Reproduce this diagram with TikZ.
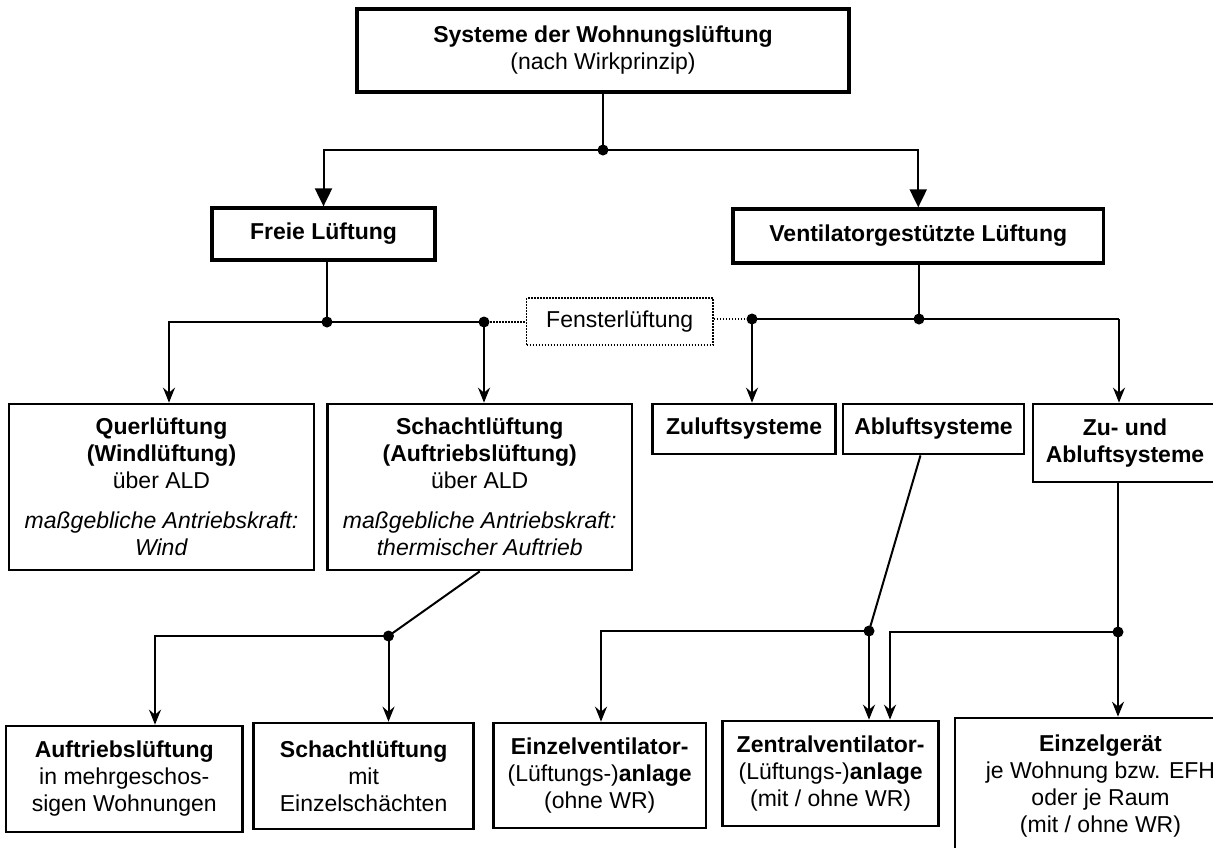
\documentclass[tikz,border=0pt]{standalone}
\usepackage{fontspec}
\setmainfont{Liberation Sans}
\usetikzlibrary{arrows.meta}
\begin{document}
\begin{tikzpicture}[x=1pt,y=-1pt,
  every node/.style={font=\fontsize{23}{27}\selectfont, align=center, inner sep=0pt},
  box/.style={draw, line width=2.7pt, rectangle},
  conn/.style={line width=2pt},
  bigarr/.style={conn, -{Triangle[width=17pt,length=18pt]}},
  arr/.style={conn, -{Stealth[width=12pt,length=15pt,inset=5pt]}},
  dotline/.style={line width=1.5pt, dash pattern=on 1.5pt off 1.5pt},
  jdot/.style={fill=black}
]
\useasboundingbox (0,0) rectangle (1213,847);
\clip (0,0) rectangle (1213,847);

% boxes
\node[box, line width=4pt, minimum width=492pt, minimum height=83pt] (top) at (603,50.5)
  {\textbf{Systeme der Wohnungslüftung}\\(nach Wirkprinzip)};
\node[box, line width=3.3pt, minimum width=223pt, minimum height=52pt] (freie) at (323.5,234)
  {\textbf{Freie Lüftung}};
\node[box, line width=3.3pt, minimum width=370.5pt, minimum height=54pt] (vent) at (918.25,236)
  {\textbf{Ventilatorgestützte Lüftung}};
\node[draw, dotline, minimum width=186.5pt, minimum height=47pt] (fenster) at (619.75,321.5)
  {Fensterlüftung};
\node[box, minimum width=305pt, minimum height=166pt] (quer) at (161.5,487)
  {\textbf{Querlüftung}\\\textbf{(Windlüftung)}\\über ALD\\[13pt]\textit{maßgebliche Antriebskraft:}\\\textit{Wind}};
\node[box, minimum width=304.5pt, minimum height=166pt] (schacht) at (479.75,487)
  {\textbf{Schachtlüftung}\\\textbf{(Auftriebslüftung)}\\über ALD\\[13pt]\textit{maßgebliche Antriebskraft:}\\\textit{thermischer Auftrieb}};
\node[box, minimum width=183.2pt, minimum height=50pt] (zuluft) at (744.1,429)
  {\textbf{Zuluftsysteme}};
\node[box, minimum width=181pt, minimum height=50pt] (abluft) at (933.5,429)
  {\textbf{Abluftsysteme}};
\node[box, minimum width=184pt, minimum height=78pt] (zuab) at (1125,443)
  {\textbf{Zu- und}\\\textbf{Abluftsysteme}};
\node[box, minimum width=236.5pt, minimum height=106pt] (auftrieb) at (124.25,779)
  {\textbf{Auftriebslüftung}\\in mehrgeschos-\\sigen Wohnungen};
\node[box, minimum width=219.8pt, minimum height=106pt] (schacht2) at (363.6,776)
  {\textbf{Schachtlüftung}\\mit\\Einzelschächten};
\node[box, minimum width=212.6pt, minimum height=105pt] (einzelv) at (599.7,775.5)
  {\textbf{Einzelventilator-}\\(Lüftungs-)\textbf{anlage}\\(ohne WR)};
\node[box, minimum width=215.9pt, minimum height=105pt] (zentral) at (830.65,773.5)
  {\textbf{Zentralventilator-}\\(Lüftungs-)\textbf{anlage}\\(mit / ohne WR)};
\node[box, minimum width=291pt, minimum height=136pt] (einzelg) at (1100.5,786)
  {\textbf{Einzelgerät}\\je Wohnung bzw. EFH\\oder je Raum\\(mit / ohne WR)};

% level 1
\coordinate (J1) at (603,150);
\draw[conn] (top.south) -- (J1);
\draw[bigarr] (J1) -| (freie.north);
\draw[bigarr] (J1) -| (vent.north);

% level 2 left
\coordinate (J2) at (327,322);
\coordinate (J3) at (484,322);
\coordinate (Q) at (169,322);
\draw[conn] (freie.south -| J2) -- (J2);
\draw[arr] (J2) -- (Q) -- (Q |- quer.north);
\draw[conn] (J2) -- (J3);
\draw[arr] (J3) -- (J3 |- schacht.north);
\draw[dotline] (J3) -- (J3 -| fenster.west);

% level 2 right
\coordinate (J4) at (752,319);
\coordinate (J5) at (919,319);
\coordinate (Z) at (1119,319);
\draw[dotline] (J4 -| fenster.east) -- (J4);
\draw[conn] (vent.south -| J5) -- (J5);
\draw[conn] (J4) -- (Z);
\draw[arr] (Z) -- (Z |- zuab.north);
\draw[arr] (J4) -- (J4 |- zuluft.north);

% level 3 left
\coordinate (J6) at (388.5,636);
\coordinate (A) at (155,636);
\draw[conn] (schacht.south) -- (J6);
\draw[arr] (J6) -- (A) -- (A |- auftrieb.north);
\draw[arr] (J6) -- (J6 |- schacht2.north);

% level 3 right
\coordinate (J7) at (869,631);
\coordinate (E) at (601,631);
\draw[conn] ([xshift=-13pt]abluft.south) -- (J7);
\draw[arr] (J7) -- (E) -- (E |- einzelv.north);
\draw[arr] (J7) -- (J7 |- zentral.north);
\coordinate (J8) at (1118,632);
\coordinate (F) at (890,632);
\draw[conn] (zuab.south -| J8) -- (J8);
\draw[arr] (J8) -- (F) -- (F |- zentral.north);
\draw[arr] (J8) -- (J8 |- einzelg.north);

% junction dots
\foreach \j in {J1,J2,J3,J4,J5,J6,J7,J8}
  \fill[jdot] (\j) circle (5.5pt);
\end{tikzpicture}
\end{document}
